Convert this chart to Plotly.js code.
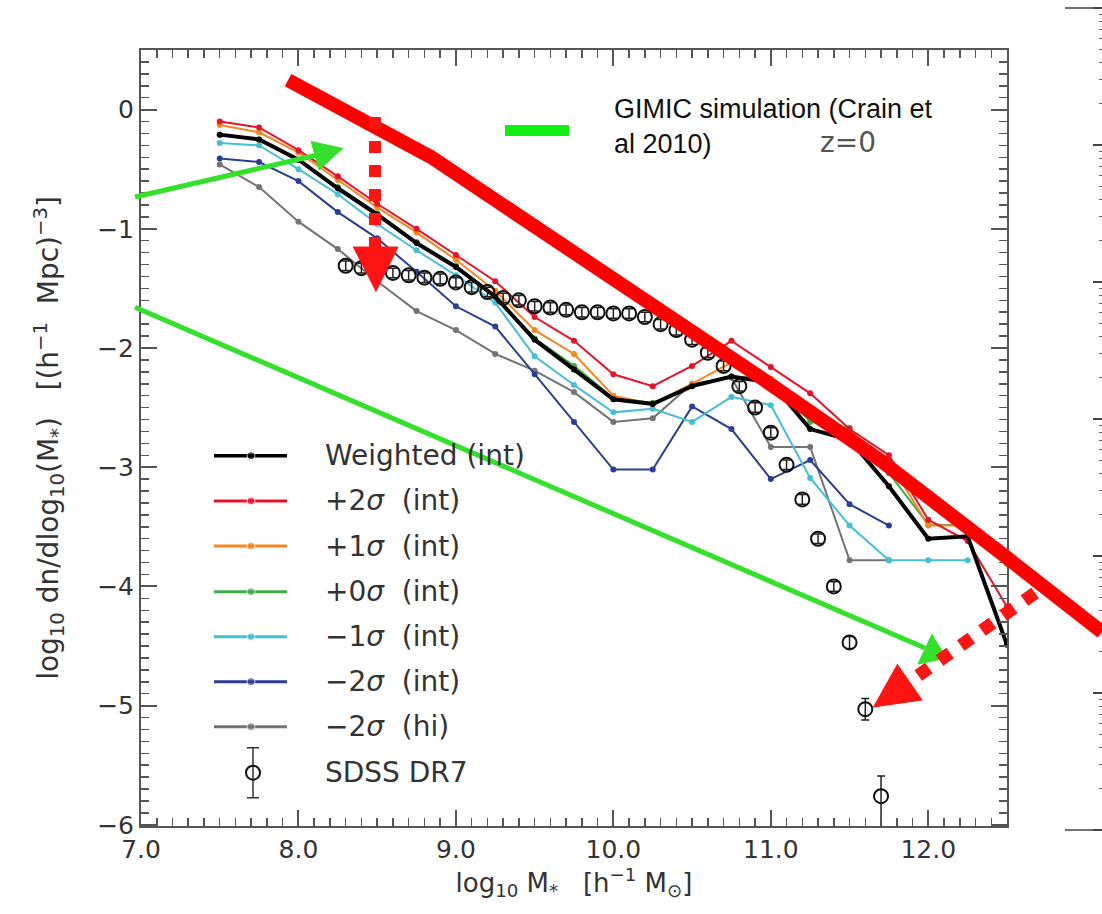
<!DOCTYPE html>
<html>
<head>
<meta charset="utf-8">
<script src="https://cdn.plot.ly/plotly-3.0.1.min.js"></script>
<style>html,body{margin:0;padding:0;background:#fff;}</style>
</head>
<body>
<div id="chart" style="width:1102px;height:914px;"></div>
<script>
// ---------------- DATA ----------------
const logMass = [7.5, 7.75, 8.0, 8.25, 8.5, 8.75, 9.0, 9.25, 9.5, 9.75, 10.0, 10.25, 10.5, 10.75, 11.0, 11.25, 11.5, 11.75, 12.0, 12.25, 12.5];
const weightedInt = [-0.21, -0.25, -0.42, -0.66, -0.88, -1.12, -1.32, -1.57, -1.93, -2.18, -2.43, -2.47, -2.32, -2.24, -2.29, -2.68, -2.77, -3.16, -3.60, -3.58, -4.49];
const plus2Int   = [-0.10, -0.15, -0.34, -0.56, -0.79, -1.00, -1.22, -1.44, -1.74, -1.94, -2.22, -2.32, -2.15, -1.94, -2.16, -2.38, -2.68, -2.90, -3.44, -3.62, -4.17];
const plus1Int   = [-0.13, -0.19, -0.36, -0.59, -0.82, -1.03, -1.26, -1.52, -1.85, -2.05, -2.40, -2.47, -2.30, -2.12, -2.26, -2.55, -2.70, -2.95, -3.49, -3.49, -3.81];
const plus0Int   = [-0.21, -0.25, -0.42, -0.65, -0.87, -1.11, -1.31, -1.56, -1.92, -2.15, -2.42, -2.46, -2.31, -2.24, -2.26, -2.62, -2.67, -3.05, -3.48, -3.49, -3.81];
const minus1Int  = [-0.28, -0.30, -0.50, -0.71, -0.96, -1.18, -1.39, -1.62, -2.07, -2.31, -2.54, -2.51, -2.62, -2.41, -2.48, -3.09, -3.49, -3.78, -3.78, -3.78, null];
const minus2Int  = [-0.41, -0.44, -0.60, -0.86, -1.08, -1.36, -1.65, -1.82, -2.22, -2.62, -3.02, -3.02, -2.49, -2.68, -3.10, -2.94, -3.31, -3.49, null, null, null];
const minus2Hi   = [-0.46, -0.65, -0.94, -1.17, -1.44, -1.69, -1.85, -2.05, -2.19, -2.37, -2.62, -2.59, -2.30, -2.25, -2.83, -2.83, -3.78, -3.78, null, null, null];

const sdssMass = [8.3, 8.4, 8.5, 8.6, 8.7, 8.8, 8.9, 9.0, 9.1, 9.2, 9.3, 9.4, 9.5, 9.6, 9.7, 9.8, 9.9, 10.0, 10.1, 10.2, 10.3, 10.4, 10.5, 10.6, 10.7, 10.8, 10.9, 11.0, 11.1, 11.2, 11.3, 11.4, 11.5, 11.6, 11.7];
const sdssPhi  = [-1.31, -1.33, -1.35, -1.37, -1.39, -1.41, -1.42, -1.45, -1.49, -1.53, -1.58, -1.60, -1.65, -1.66, -1.68, -1.70, -1.70, -1.71, -1.71, -1.74, -1.80, -1.85, -1.93, -2.04, -2.15, -2.32, -2.50, -2.71, -2.98, -3.27, -3.60, -4.00, -4.47, -5.03, -5.76];
const sdssErrUp   = [0.04,0.04,0.04,0.04,0.04,0.04,0.04,0.04,0.04,0.04,0.04,0.04,0.04,0.04,0.04,0.04,0.04,0.04,0.04,0.04,0.04,0.04,0.04,0.04,0.04,0.04,0.04,0.04,0.04,0.04,0.04,0.04,0.05,0.09,0.17];
const sdssErrDown = [0.04,0.04,0.04,0.04,0.04,0.04,0.04,0.04,0.04,0.04,0.04,0.04,0.04,0.04,0.04,0.04,0.04,0.04,0.04,0.04,0.04,0.04,0.04,0.04,0.04,0.04,0.04,0.04,0.04,0.04,0.04,0.04,0.05,0.09,0.30];

const seriesNames = ["Weighted (int)", "+2<i>σ</i>\u00a0 (int)", "+1<i>σ</i>\u00a0 (int)", "+0<i>σ</i>\u00a0 (int)", "\u22121<i>σ</i>\u00a0 (int)", "\u22122<i>σ</i>\u00a0 (int)", "\u22122<i>σ</i>\u00a0 (hi)"];
const sdssName = "SDSS DR7";

// hand-drawn overlay (GIMIC simulation curve and arrows), in data units
const gimicX = [7.934, 8.842, 10.931, 11.694, 12.519, 13.103];
const gimicY = [0.248, -0.398, -2.243, -2.940, -3.779, -4.383];
const arrowDownX = [8.486, 8.486];
const arrowDownY = [-0.062, -1.153];
const arrowDownHeadX = [8.346, 8.632, 8.491];
const arrowDownHeadY = [-1.153, -1.153, -1.528];
const arrowDiagX = [12.678, 11.878];
const arrowDiagY = [-4.055, -4.802];
const arrowDiagHeadX = [11.802, 11.960, 11.649];
const arrowDiagHeadY = [-4.651, -4.953, -5.012];
const greenUpX = [6.962, 8.105];
const greenUpY = [-0.733, -0.385];
const greenUpHeadX = [8.080, 8.131, 8.283];
const greenUpHeadY = [-0.263, -0.507, -0.322];
const greenDownX = [6.962, 11.979];
const greenDownY = [-1.658, -4.517];
const greenDownHeadX = [12.024, 11.935, 12.119];
const greenDownHeadY = [-4.400, -4.651, -4.601];

// ---------------- LAYOUT GEOMETRY ----------------
const W = 1102, H = 914;
const pL = 141, pR = 1007, pT = 50, pB = 826;
const xr = [7.0, 12.5], yr = [-6.01, 0.5];
const kx = (pR - pL) / (xr[1] - xr[0]);
const ky = (pB - pT) / (yr[1] - yr[0]);
const x2r = [xr[0] - pL / kx, xr[1] + (W - pR) / kx];
const y2r = [yr[0] - (H - pB) / ky, yr[1] + pT / ky];
const px2x = p => xr[0] + (p - pL) / kx;
const px2y = p => yr[1] - (p - pT) / ky;

const colors = ["#000000", "#e8132b", "#f7861e", "#3fae49", "#45bfd5", "#2a3f93", "#737373"];
const seriesData = [weightedInt, plus2Int, plus1Int, plus0Int, minus1Int, minus2Int, minus2Hi];
const drawOrder = [6, 5, 4, 3, 2, 1, 0];

const traces = [];
drawOrder.forEach(i => {
  traces.push({
    x: logMass, y: seriesData[i], type: "scatter", mode: "lines+markers",
    line: {color: colors[i], width: i === 0 ? 4 : 2},
    marker: {color: colors[i], size: 6},
    hoverinfo: "skip", showlegend: false, xaxis: "x", yaxis: "y"
  });
});
traces.push({
  x: sdssMass, y: sdssPhi, type: "scatter", mode: "markers",
  marker: {symbol: "circle-open", size: 14, color: "#111", line: {width: 2, color: "#111"}},
  error_y: {type: "data", symmetric: false, array: sdssErrUp, arrayminus: sdssErrDown, color: "#222", thickness: 1.5, width: 4},
  hoverinfo: "skip", showlegend: false, xaxis: "x", yaxis: "y"
});

// manual legend (in-plot)
const legRowsPx = [455.7, 501, 546, 591.7, 636.7, 681.7, 726.7];
const legLine = [px2x(214), px2x(251), px2x(287)];
const annotations = [];
seriesData.forEach((s, i) => {
  const yy = px2y(legRowsPx[i]);
  traces.push({
    x: legLine, y: [yy, yy, yy], type: "scatter", mode: "lines+markers",
    line: {color: colors[i], width: i === 0 ? 3.5 : 3},
    marker: {color: colors[i], size: [0, 8, 0]},
    hoverinfo: "skip", showlegend: false, xaxis: "x", yaxis: "y"
  });
  annotations.push({
    x: px2x(323), y: yy, xref: "x", yref: "y", xanchor: "left", yanchor: "middle",
    text: seriesNames[i], showarrow: false,
    font: {family: "DejaVu Sans", size: 28, color: "#333"}
  });
});
const sdssLegY = px2y(772.7);
traces.push({
  x: [px2x(253)], y: [sdssLegY], type: "scatter", mode: "markers",
  marker: {symbol: "circle-open", size: 14, color: "#111", line: {width: 2, color: "#111"}},
  error_y: {type: "data", array: [25 / ky], color: "#333", thickness: 1.5, width: 6},
  hoverinfo: "skip", showlegend: false, xaxis: "x", yaxis: "y"
});
annotations.push({
  x: px2x(323), y: sdssLegY, xref: "x", yref: "y", xanchor: "left", yanchor: "middle",
  text: sdssName, showarrow: false,
  font: {family: "DejaVu Sans", size: 28, color: "#333"}
});

// overlays on full-figure axes
const GREEN = "#33e02a", RED = "#ff1414";
function lineTrace(x, y, color, width, dash) {
  return {x, y, type: "scatter", mode: "lines", line: {color, width, dash: dash || "solid"},
          hoverinfo: "skip", showlegend: false, xaxis: "x2", yaxis: "y2"};
}
function headTrace(x, y, color) {
  return {x, y, type: "scatter", mode: "lines", fill: "toself", fillcolor: color,
          line: {color, width: 1}, hoverinfo: "skip", showlegend: false, xaxis: "x2", yaxis: "y2"};
}
traces.push(lineTrace(greenUpX, greenUpY, GREEN, 5));
traces.push(headTrace(greenUpHeadX, greenUpHeadY, GREEN));
traces.push(lineTrace(greenDownX, greenDownY, GREEN, 5));
traces.push(headTrace(greenDownHeadX, greenDownHeadY, GREEN));
traces.push(lineTrace(gimicX, gimicY, "#ff0000", 14));
traces.push(lineTrace(arrowDownX, arrowDownY, RED, 12, "dot"));
traces.push(headTrace(arrowDownHeadX, arrowDownHeadY, RED));
traces.push(lineTrace(arrowDiagX, arrowDiagY, RED, 13, "dot"));
traces.push(headTrace(arrowDiagHeadX, arrowDiagHeadY, RED));

// dummy trace for the neighbouring panel's log axis
traces.push({x: [0.5], y: [10], type: "scatter", mode: "none", hoverinfo: "skip", showlegend: false, xaxis: "x3", yaxis: "y3"});

// text annotations
annotations.push({
  xref: "paper", yref: "paper", x: 612 / W, y: 1 - 126.5 / H, xanchor: "left", yanchor: "middle", align: "left",
  text: "GIMIC simulation (Crain et<br>al 2010)", showarrow: false,
  font: {family: "Liberation Sans", size: 27, color: "#111"}
});
annotations.push({
  xref: "paper", yref: "paper", x: 848 / W, y: 1 - 143 / H, xanchor: "center", yanchor: "middle",
  text: "z=0", showarrow: false,
  font: {family: "DejaVu Sans", size: 28, color: "#555"}
});

const axisFont = {family: "DejaVu Sans", size: 25, color: "#333"};
const layout = {
  width: W, height: H,
  margin: {l: 0, r: 0, t: 0, b: 0, pad: 0},
  paper_bgcolor: "#ffffff", plot_bgcolor: "rgba(0,0,0,0)",
  showlegend: false,
  xaxis: {
    domain: [pL / W, pR / W], range: xr, anchor: "y",
    showline: true, linecolor: "#555", linewidth: 2, mirror: "ticks",
    ticks: "inside", ticklen: 16, tickwidth: 2, tickcolor: "#555",
    dtick: 1, tick0: 7, tickformat: ".1f", tickfont: axisFont,
    minor: {ticks: "inside", ticklen: 8, tickwidth: 1.5, tickcolor: "#555", dtick: 0.1, showgrid: false},
    showgrid: false, zeroline: false,
    title: {text: "log<sub>10</sub> M<sub>*</sub>\u00a0\u00a0 [h<sup>\u22121</sup> M<sub>⊙</sub>]", font: {family: "DejaVu Sans", size: 26, color: "#333"}, standoff: 8}
  },
  yaxis: {
    domain: [1 - pB / H, 1 - pT / H], range: yr, anchor: "x",
    showline: true, linecolor: "#555", linewidth: 2, mirror: "ticks",
    ticks: "inside", ticklen: 16, tickwidth: 2, tickcolor: "#555",
    dtick: 1, tick0: 0, tickfont: axisFont,
    minor: {ticks: "inside", ticklen: 8, tickwidth: 1.5, tickcolor: "#555", dtick: 0.1, showgrid: false},
    showgrid: false, zeroline: false,
    title: {text: "log<sub>10</sub> dn/dlog<sub>10</sub>(M<sub>*</sub>)\u00a0\u00a0 [(h<sup>\u22121</sup>\u00a0 Mpc)<sup>\u22123</sup>]", font: {family: "DejaVu Sans", size: 28, color: "#333"}, standoff: 30}
  },
  xaxis2: {domain: [0, 1], range: x2r, anchor: "y2", visible: false, showticklabels: false, fixedrange: true},
  yaxis2: {domain: [0, 1], range: y2r, anchor: "x2", visible: false, showticklabels: false, fixedrange: true},
  xaxis3: {domain: [0.97, 1], range: [0, 1], anchor: "y3", visible: false, showticklabels: false},
  yaxis3: {
    domain: [1 - 830 / H, 1 - 8 / H], type: "log", range: [0, 6], anchor: "free", position: 1, side: "left",
    showline: false, showgrid: false, zeroline: false, showticklabels: false,
    ticks: "outside", ticklen: 9, tickwidth: 1.5, tickcolor: "#444", dtick: 1,
    minor: {ticks: "outside", ticklen: 3, tickwidth: 1, tickcolor: "#666", showgrid: false}
  },
  shapes: [
    {type: "rect", xref: "paper", yref: "paper", x0: 505 / W, x1: 569 / W, y0: 1 - 136 / H, y1: 1 - 125 / H,
     fillcolor: "#11ee11", line: {width: 0}},
    {type: "line", xref: "paper", yref: "paper", x0: 1065 / W, x1: 1, y0: 1 - 8 / H, y1: 1 - 8 / H, line: {color: "#444", width: 1.5}},
    {type: "line", xref: "paper", yref: "paper", x0: 1065 / W, x1: 1, y0: 1 - 830 / H, y1: 1 - 830 / H, line: {color: "#444", width: 1.5}}
  ],
  annotations: annotations
};

Plotly.newPlot("chart", traces, layout, {staticPlot: true, displayModeBar: false});
</script>
</body>
</html>
